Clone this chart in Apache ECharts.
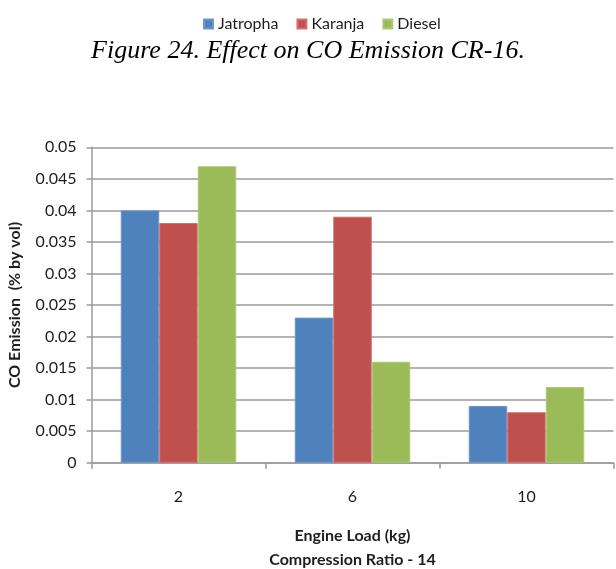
<!DOCTYPE html>
<html>
<head>
<meta charset="utf-8">
<script src="https://cdn.jsdelivr.net/npm/echarts@6/dist/echarts.min.js"></script>
<style>
  html, body { margin: 0; padding: 0; background: #fff; }
  #chart { width: 616px; height: 569px; }
</style>
</head>
<body>
<div id="chart"></div>
<script>
// Engine load categories (kg)
const loads = ['2', '6', '10'];

// CO emission (% by vol) per fuel
const jatropha = [0.040, 0.023, 0.009];
const karanja  = [0.038, 0.039, 0.008];
const diesel   = [0.047, 0.016, 0.012];

// Value axis ticks
const yTicks = ['0', '0.005', '0.01', '0.015', '0.02', '0.025', '0.03', '0.035', '0.04', '0.045', '0.05'];

const seriesNames = ['Jatropha', 'Karanja', 'Diesel'];
const seriesData = [jatropha, karanja, diesel];
const colors = ['#4F81BD', '#C0504D', '#9BBB59'];
const borders = ['#6d96c9', '#cf6e6b', '#aec976'];

const sans = 'Lato, "Open Sans", sans-serif';
const gridColor = '#9b9b9b';
const textColor = '#1e1e1e';

const chart = echarts.init(document.getElementById('chart'), null, { renderer: 'canvas' });

chart.setOption({
  animation: false,
  backgroundColor: '#ffffff',
  title: {
    text: 'Figure 24. Effect on CO Emission CR-16.',
    left: 'center',
    top: 33,
    textStyle: {
      fontFamily: '"Liberation Serif", "DejaVu Serif", serif',
      fontStyle: 'italic',
      fontWeight: 'normal',
      fontSize: 26,
      color: '#000'
    }
  },
  legend: {
    data: seriesNames,
    left: 198,
    top: 11,
    icon: 'rect',
    itemWidth: 9,
    itemHeight: 9,
    itemGap: 18,
    textStyle: { fontFamily: sans, fontSize: 16, color: textColor }
  },
  grid: {
    left: 91.5,
    top: 147.3,
    right: 2.5,
    bottom: 106.3,
    containLabel: false,
    outerBoundsMode: 'none'
  },
  xAxis: {
    type: 'category',
    data: loads,
    name: 'Engine Load (kg)\nCompression Ratio - 14',
    nameLocation: 'middle',
    nameGap: 61,
    nameTextStyle: {
      fontFamily: sans,
      fontSize: 16,
      fontWeight: 'bold',
      color: textColor,
      lineHeight: 24
    },
    axisLine: { lineStyle: { color: gridColor, width: 1.5 } },
    axisTick: { show: true, length: 6, lineStyle: { color: gridColor, width: 1.5 } },
    axisLabel: { margin: 26, fontFamily: sans, fontSize: 16, color: textColor },
    splitLine: { show: false }
  },
  yAxis: {
    type: 'value',
    min: 0,
    max: 0.05,
    interval: 0.005,
    name: 'CO Emission  (% by vol)',
    nameLocation: 'middle',
    nameGap: 69,
    nameTextStyle: {
      fontFamily: sans,
      fontSize: 16,
      fontWeight: 'bold',
      color: textColor
    },
    axisLine: { show: true, lineStyle: { color: gridColor, width: 1.5 } },
    axisTick: { show: true, length: 5, lineStyle: { color: gridColor, width: 1.5 } },
    axisLabel: {
      margin: 15,
      fontFamily: sans,
      fontSize: 16,
      color: textColor,
      formatter: function (v) {
        const idx = Math.round(v / 0.005);
        return yTicks[idx] !== undefined ? yTicks[idx] : String(v);
      }
    },
    splitLine: { show: true, lineStyle: { color: gridColor, width: 1.5 } }
  },
  series: seriesNames.map(function (name, i) {
    return {
      name: name,
      type: 'bar',
      data: seriesData[i],
      barWidth: 38.5,
      barGap: '0%',
      itemStyle: { color: colors[i], borderColor: borders[i], borderWidth: 1 }
    };
  })
});
</script>
</body>
</html>
